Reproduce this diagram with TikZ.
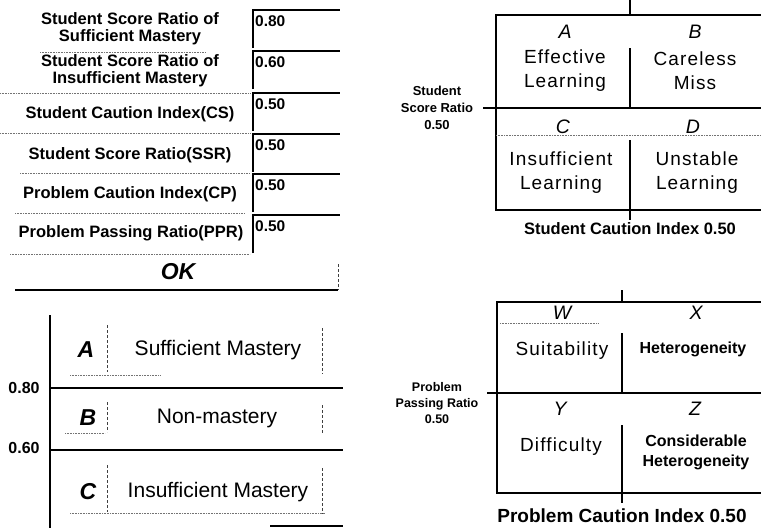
\documentclass[tikz,border=0pt]{standalone}
\usepackage{fontspec}
\setmainfont{Liberation Sans}
\newfontfamily\spacedfont[LetterSpace=6]{Liberation Sans}
\usetikzlibrary{positioning}

\begin{document}
\begin{tikzpicture}[x=1pt,y=-1pt,
  formlab/.style={align=center, font=\bfseries\fontsize{16.5}{17}\selectfont},
  fieldval/.style={anchor=west, inner sep=1pt, font=\bfseries\fontsize{15.5}{15}\selectfont},
  field/.style={line width=1.6pt},
  frame/.style={line width=1.8pt},
  grid/.style={line width=1.3pt},
  scan/.style={densely dotted, black!55, line width=0.6pt},
  edge/.style={densely dashed, black!75, line width=0.7pt},
  quad/.style={align=center, font=\spacedfont\fontsize{19}{24}\selectfont},
  quadb/.style={align=center, font=\bfseries\fontsize{16}{20}\selectfont},
  letter/.style={font=\itshape\fontsize{19.5}{19}\selectfont},
  axislab/.style={align=center, font=\bfseries\fontsize{13}{17}\selectfont},
  level/.style={font=\fontsize{21}{21}\selectfont},
  levelletter/.style={font=\bfseries\itshape\fontsize{23}{23}\selectfont},
  ]
\useasboundingbox (0,0) rectangle (761,528);

% input form
\node(l1) [formlab] at (130,29) {Student Score Ratio of\\Sufficient Mastery};
\node(l2) [formlab] at (130,71) {Student Score Ratio of\\Insufficient Mastery};
\node(l3) [formlab] at (130,114) {Student Caution Index(CS)};
\node(l4) [formlab] at (130,155) {Student Score Ratio(SSR)};
\node(l5) [formlab] at (130,194) {Problem Caution Index(CP)};
\node(l6) [formlab] at (131,233) {Problem Passing Ratio(PPR)};
\foreach \top/\v [count=\i] in {10/0.80, 51/0.60, 93/0.50, 134/0.50, 174/0.50, 215/0.50} {
  \draw[field] (253,\top+38) -- (253,\top) -- (340,\top);
  \node(v\i) [fieldval] at (254,\top+11) {\v};
}
\draw[scan] (40,52) -- (205,52);
\draw[scan] (0,93) -- (250,93);
\draw[scan] (0,133) -- (250,133);
\draw[scan] (20,173) -- (250,173);
\draw[scan] (15,213) -- (245,213);
\draw[scan] (10,254) -- (250,254);
\node(ok) [font=\bfseries\itshape\fontsize{23}{23}\selectfont] at (178,272) {OK};
\draw[line width=1.3pt] (15,290) -- (338,290);
\draw[edge] (338,264) -- (338,290);

% student chart
\draw[frame] (761,15) -- (496,15) -- (496,210) -- (761,210);
\draw[grid] (483,108) -- (761,108);
\draw[grid] (630,0) -- (630,15);
\draw[grid] (630,48) -- (630,108);
\draw[grid] (630,140) -- (630,220);
\draw[scan] (496,135) -- (761,135);
\node(sa) [letter] at (565,32) {A};
\node(sb) [letter] at (695,32) {B};
\node(sc) [letter] at (563,127) {C};
\node(sd) [letter] at (693,127) {D};
\node(sa1) [quad] at (565,71) {Effective\\Learning};
\node(sb1) [quad] at (695,71) {Careless\\Miss};
\node(sc1) [quad] at (561,173) {Insufficient\\Learning};
\node(sd1) [quad] at (697,173) {Unstable\\Learning};
\node(sx) [font=\bfseries\fontsize{16.5}{17}\selectfont] at (630,229) {Student Caution Index 0.50};
\node(sy) [axislab] at (437,108) {Student\\Score Ratio\\0.50};

% problem chart
\draw[frame] (761,302) -- (497,302) -- (497,493) -- (761,493);
\draw[grid] (487,393) -- (761,393);
\draw[grid] (622,290) -- (622,302);
\draw[grid] (622,333) -- (622,393);
\draw[grid] (622,425) -- (622,503);
\draw[scan] (500,323) -- (598,323);
\node(pw) [letter] at (562,313) {W};
\node(px) [letter] at (696,313) {X};
\node(py) [letter] at (560,409) {Y};
\node(pz) [letter] at (695,409) {Z};
\node(pw1) [quad] at (562,351) {Suitability};
\node(px1) [quadb] at (693,349) {Heterogeneity};
\node(py1) [quad] at (561,447) {Difficulty};
\node(pz1) [quadb] at (696,452) {Considerable\\Heterogeneity};
\node(px2) [font=\bfseries\fontsize{19}{19}\selectfont] at (622,516) {Problem Caution Index 0.50};
\node(py2) [axislab, font=\bfseries\fontsize{12.5}{16}\selectfont] at (437,403) {Problem\\Passing Ratio\\0.50};

% mastery levels
\draw[line width=2pt] (50,315) -- (50,528);
\draw[grid] (50,388) -- (343,388);
\draw[grid] (50,450) -- (343,450);
\draw[grid] (270,526) -- (343,526);
\node(m1) [font=\bfseries\fontsize{16}{16}\selectfont] at (24,388) {0.80};
\node(m2) [font=\bfseries\fontsize{16}{16}\selectfont] at (24,448) {0.60};
\node(ma) [levelletter] at (86,350) {A};
\node(mb) [levelletter] at (88,418) {B};
\node(mc) [levelletter] at (88,492) {C};
\node(ma1) [level] at (218,350) {Sufficient Mastery};
\node(mb1) [level] at (217,418) {Non-mastery};
\node(mc1) [level] at (218,492) {Insufficient Mastery};
\foreach \ya/\yb in {325/372, 402/432, 465/512} {
  \draw[edge] (107,\ya) -- (107,\yb);
  \draw[edge] (322,\ya+3) -- (322,\yb+2);
}
\draw[scan] (70,375) -- (160,375);
\draw[scan] (65,433) -- (105,433);
\draw[scan] (70,513) -- (325,513);
\end{tikzpicture}
\end{document}
